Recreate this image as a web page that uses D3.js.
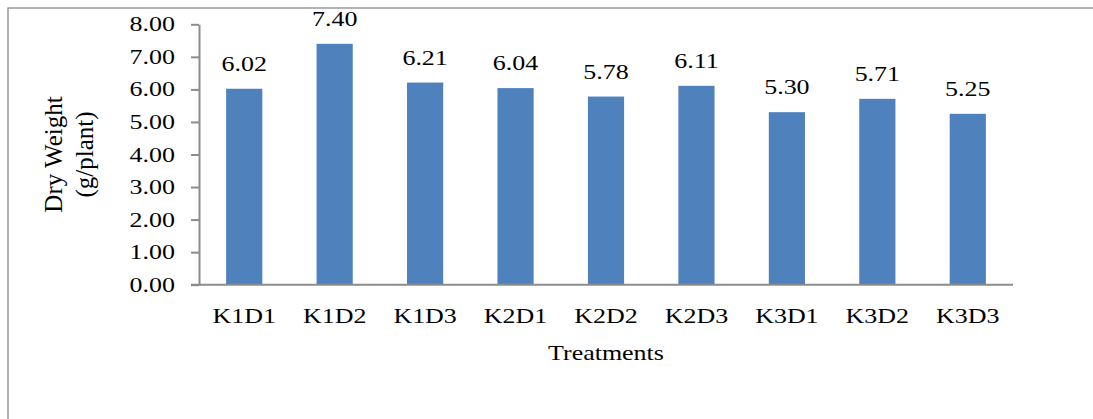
<!DOCTYPE html>
<html lang="en">
<head>
  <meta charset="UTF-8">
  <title>Dry Weight by Treatment</title>
  <style>
    body { margin: 0; background: #fff; }
    svg text { font-family: "Times New Roman", "Liberation Serif", serif; fill: #000; }
    .yAxis path, .yAxis line, .xAxis path { stroke: #8c8c8c; stroke-width: 2; }
  </style>
</head>
<body>
  <div class="chartBlock"></div>

  <script src="https://d3js.org/d3.v7.min.js"></script>
  <script>
    // data
    const treatments = ['K1D1', 'K1D2', 'K1D3', 'K2D1', 'K2D2', 'K2D3', 'K3D1', 'K3D2', 'K3D3'];
    const dryWeight = [6.02, 7.40, 6.21, 6.04, 5.78, 6.11, 5.30, 5.71, 5.25];
    const yTicks = [0, 1, 2, 3, 4, 5, 6, 7, 8];

    const width = 1093, height = 419;
    const plot = { left: 199, right: 1013, top: 24.3, bottom: 284.7 };
    const stretch = 1.18; // text looks wider than plain Times

    const svg = d3.select('.chartBlock')
                  .append('svg')
                  .attr('width', width)
                  .attr('height', height);

    // outer frame, runs off the right and bottom edges
    svg.append('rect')
       .attr('x', 8).attr('y', 8)
       .attr('width', 1300).attr('height', 700)
       .attr('fill', 'none')
       .attr('stroke', '#8a8a8a')
       .attr('stroke-width', 1.3);

    const xScale = d3.scaleBand()
                     .domain(treatments)
                     .range([plot.left, plot.right])
                     .paddingInner(0.6)
                     .paddingOuter(0.3);

    const yScale = d3.scaleLinear()
                     .domain([0, 8])
                     .range([plot.bottom, plot.top]);

    // bars
    svg.append('g')
       .selectAll('rect')
       .data(dryWeight)
       .join('rect')
       .attr('x', (d, i) => xScale(treatments[i]))
       .attr('y', d => yScale(d))
       .attr('width', xScale.bandwidth())
       .attr('height', d => yScale(0) - yScale(d))
       .attr('fill', '#4f81bd');

    // value labels
    svg.append('g')
       .selectAll('text')
       .data(dryWeight)
       .join('text')
       .attr('transform', (d, i) => `translate(${xScale(treatments[i]) + xScale.bandwidth() / 2}, ${yScale(d) - 18}) scale(${stretch},1)`)
       .attr('text-anchor', 'middle')
       .style('font-size', '22px')
       .text(d => d.toFixed(2));

    // y axis
    const yAxis = d3.axisLeft(yScale)
                    .tickValues(yTicks)
                    .tickSizeInner(8)
                    .tickSizeOuter(0)
                    .tickFormat(d3.format('.2f'));

    const yAxisGroup = svg.append('g')
                          .attr('class', 'yAxis')
                          .attr('transform', `translate(${plot.left},0)`)
                          .call(yAxis);

    yAxisGroup.selectAll('.tick text')
              .attr('x', null)
              .attr('dy', null)
              .attr('transform', `translate(-24, 6.5) scale(${stretch},1)`)
              .style('font-size', '22px');

    // x axis, no tick marks
    const xAxis = d3.axisBottom(xScale)
                    .tickSize(0)
                    .tickPadding(0);

    const xAxisGroup = svg.append('g')
                          .attr('class', 'xAxis')
                          .attr('transform', `translate(0,${plot.bottom})`)
                          .call(xAxis);

    xAxisGroup.select('.domain').attr('d', `M${plot.left - 8},0H${plot.right}`);

    xAxisGroup.selectAll('.tick text')
              .attr('y', null)
              .attr('dy', null)
              .attr('transform', `translate(0, 38.6) scale(${stretch},1)`)
              .style('font-size', '22px');

    // axis titles
    svg.append('text')
       .attr('transform', `translate(${(plot.left + plot.right) / 2}, 360) scale(${stretch},1)`)
       .attr('text-anchor', 'middle')
       .style('font-size', '22px')
       .text('Treatments');

    const yTitle = svg.append('text')
                      .attr('transform', `translate(62, ${(plot.top + plot.bottom) / 2}) rotate(-90)`)
                      .attr('text-anchor', 'middle')
                      .style('font-size', '25px');

    yTitle.append('tspan').attr('x', 0).attr('dy', 0).text('Dry Weight');
    yTitle.append('tspan').attr('x', 0).attr('dy', 31).text('(g/plant)');
  </script>
</body>
</html>
